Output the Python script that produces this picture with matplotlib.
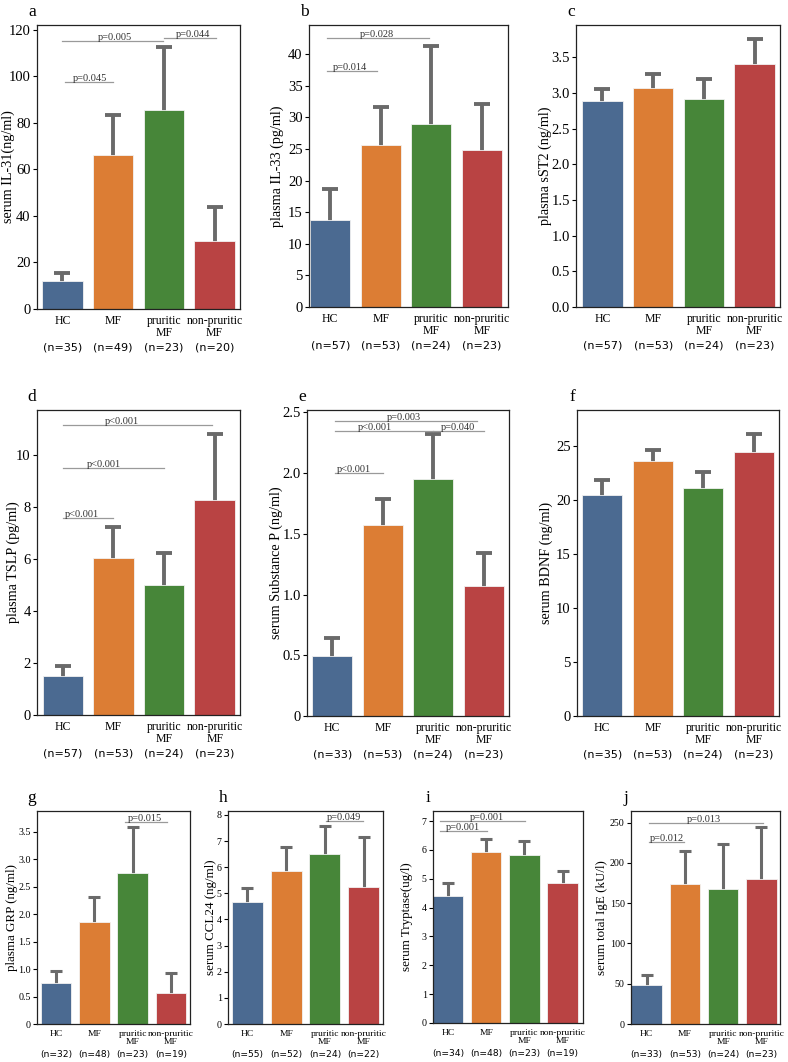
import matplotlib.pyplot as plt

W, H = 788, 1062
SERIF = ['Liberation Serif', 'DejaVu Serif']
SANS = ['DejaVu Sans']

groups = ['HC', 'MF', 'pruritic\nMF', 'non-pruritic\nMF']
bar_colors = ['#4b6a91', '#dc7d34', '#478639', '#b94343']

# a  serum IL-31
il31_mean = [12.0, 66.1, 85.7, 29.0]
il31_err = [3.6, 17.1, 26.7, 15.0]
il31_n = [35, 49, 23, 20]
il31_p = [(0.05, 1.0, 97.6, 'p=0.045', 0.54),
          (0.0, 1.98, 115.1, 'p=0.005', 1.04),
          (2.0, 3.02, 116.6, 'p=0.044', 2.57)]

# b  plasma IL-33
il33_mean = [13.75, 25.6, 29.0, 24.8]
il33_err = [4.85, 6.1, 12.2, 7.3]
il33_n = [57, 53, 24, 23]
il33_p = [(-0.07, 0.93, 37.3, 'p=0.014', 0.39),
          (-0.07, 1.96, 42.5, 'p=0.028', 0.92)]

# c  plasma sST2
sst2_mean = [2.88, 3.07, 2.91, 3.40]
sst2_err = [0.17, 0.20, 0.28, 0.36]
sst2_n = [57, 53, 24, 23]

# d  plasma TSLP
tslp_mean = [1.52, 6.06, 5.01, 8.28]
tslp_err = [0.35, 1.19, 1.24, 2.55]
tslp_n = [57, 53, 24, 23]
tslp_p = [(0.0, 1.0, 7.6, 'p<0.001', 0.37),
          (0.0, 2.0, 9.5, 'p<0.001', 0.82),
          (0.0, 2.95, 11.16, 'p<0.001', 1.16)]

# e  serum Substance P
subp_mean = [0.494, 1.573, 1.952, 1.072]
subp_err = [0.149, 0.217, 0.374, 0.27]
subp_n = [33, 53, 24, 23]
subp_p = [(0.06, 1.0, 2.0, 'p<0.001', 0.43),
          (0.06, 2.0, 2.35, 'p<0.001', 0.85),
          (2.0, 3.0, 2.35, 'p=0.040', 2.49),
          (0.06, 2.86, 2.43, 'p=0.003', 1.42)]

# f  serum BDNF
bdnf_mean = [20.4, 23.55, 21.1, 24.45]
bdnf_err = [1.4, 1.02, 1.5, 1.61]
bdnf_n = [35, 53, 24, 23]

# g  plasma GRP
grp_mean = [0.745, 1.85, 2.745, 0.573]
grp_err = [0.225, 0.47, 0.845, 0.353]
grp_n = [32, 48, 23, 19]
grp_p = [(1.8, 2.9, 3.68, 'p=0.015', 2.33)]

# h  serum CCL24
ccl24_mean = [4.65, 5.87, 6.5, 5.26]
ccl24_err = [0.57, 0.92, 1.08, 1.89]
ccl24_n = [55, 52, 24, 22]
ccl24_p = [(2.02, 2.99, 7.77, 'p=0.049', 2.5)]

# i  serum Tryptase
tryp_mean = [4.41, 5.93, 5.83, 4.84]
tryp_err = [0.45, 0.46, 0.48, 0.43]
tryp_n = [34, 48, 23, 19]
tryp_p = [(-0.21, 1.01, 6.64, 'p=0.001', 0.38),
          (-0.21, 2.01, 7.0, 'p=0.001', 1.01)]

# j  serum total IgE
ige_mean = [47.9, 174.0, 167.4, 179.8]
ige_err = [12.4, 41.0, 55.6, 65.2]
ige_n = [33, 53, 24, 23]
ige_p = [(0.06, 0.99, 225.7, 'p=0.012', 0.52),
         (0.06, 3.05, 250.0, 'p=0.013', 1.51)]


def draw_panel(fig, box, label_x, letter, ylabel, means, errs, ns, ylim,
               yticks, yticklabels, pvals, xlim, small=False):
    l, t, r, b = box
    ax = fig.add_axes([l / W, 1 - b / H, (r - l) / W, (b - t) / H])
    x = list(range(len(groups)))

    if small:
        fs_tick, fs_cat, fs_n, fs_lab = 7.2, 6.8, 6.6, 9.4
        lw, cap, n_off = 2.2, 4.2, 22
    else:
        fs_tick, fs_cat, fs_n, fs_lab = 10.5, 8.5, 8.0, 10.2
        lw, cap, n_off = 2.8, 5.6, 28

    ax.bar(x, means, width=0.8, color=bar_colors, edgecolor='#f2f2f2',
           linewidth=0.6, zorder=2)
    # symmetric bars drawn behind the boxes, so only the upper half shows
    ax.errorbar(x, means, yerr=errs, fmt='none', ecolor='#6a6a6a',
                elinewidth=lw, capsize=cap, capthick=lw, zorder=1)

    for x0, x1, y, txt, tx in pvals:
        ax.plot([x0, x1], [y, y], color='#9a9a9a', lw=0.9, zorder=3)
        ax.text(tx, y - 0.004 * ylim, txt, ha='center', va='bottom',
                fontsize=7.5, family=SERIF, color='#333333')

    ax.set_xlim(*xlim)
    ax.set_ylim(0, ylim)
    ax.set_yticks(yticks)
    ax.set_yticklabels(yticklabels, family=SERIF, fontsize=fs_tick)
    ax.set_xticks(x)
    ax.set_xticklabels(groups, family=SERIF, fontsize=fs_cat, va='top',
                       linespacing=1.05)
    ax.tick_params(axis='x', length=0, pad=4)
    ax.tick_params(axis='y', length=3, width=0.8, pad=1.5)
    ax.set_ylabel(ylabel, family=SERIF, fontsize=fs_lab)
    ax.yaxis.set_label_coords((label_x - l) / (r - l), 0.5)
    ax.yaxis.label.set_va('center')
    for sp in ax.spines.values():
        sp.set_linewidth(0.9)
        sp.set_color('#222222')

    for xi, n in zip(x, ns):
        ax.annotate(f'(n={n})', xy=(xi, 0), xycoords=('data', 'axes fraction'),
                    xytext=(0, -n_off), textcoords='offset points',
                    ha='center', va='center', fontsize=fs_n, family=SANS)

    fig.text((l - 5) / W, 1 - (t - 13) / H, letter, fontsize=12.5,
             family=SERIF, ha='center', va='center')
    return ax


fig = plt.figure(figsize=(W / 100, H / 100), dpi=100)

draw_panel(fig, (37, 25, 240, 309), 8, 'a', 'serum IL-31(ng/ml)',
           il31_mean, il31_err, il31_n, 122, list(range(0, 121, 20)),
           [str(v) for v in range(0, 121, 20)], il31_p, (-0.5, 3.5))
draw_panel(fig, (309, 25, 508, 307), 277, 'b', 'plasma IL-33 (pg/ml)',
           il33_mean, il33_err, il33_n, 44.6, list(range(0, 41, 5)),
           [str(v) for v in range(0, 41, 5)], il33_p, (-0.42, 3.52))
draw_panel(fig, (576, 25, 780, 307), 545, 'c', 'plasma sST2 (ng/ml)',
           sst2_mean, sst2_err, sst2_n, 3.95, [v / 2 for v in range(8)],
           [f'{v / 2:.1f}' for v in range(8)], [], (-0.52, 3.5))

draw_panel(fig, (37, 410, 240, 715), 13, 'd', 'plasma TSLP (pg/ml)',
           tslp_mean, tslp_err, tslp_n, 11.74, list(range(0, 11, 2)),
           [str(v) for v in range(0, 11, 2)], tslp_p, (-0.51, 3.5))
draw_panel(fig, (307, 410, 509, 716), 276, 'e', 'serum Substance P (ng/ml)',
           subp_mean, subp_err, subp_n, 2.52, [v / 2 for v in range(6)],
           ['0'] + [f'{v / 2:.1f}' for v in range(1, 6)], subp_p, (-0.5, 3.5))
draw_panel(fig, (577, 410, 779, 716), 546, 'f', 'serum BDNF (ng/ml)',
           bdnf_mean, bdnf_err, bdnf_n, 28.3, list(range(0, 26, 5)),
           [str(v) for v in range(0, 26, 5)], [], (-0.5, 3.5))

draw_panel(fig, (37, 811, 190, 1024), 12, 'g', 'plasma GRP (ng/ml)',
           grp_mean, grp_err, grp_n, 3.88, [v / 2 for v in range(8)],
           ['0'] + [f'{v / 2:.1f}' for v in range(1, 8)], grp_p, (-0.5, 3.5),
           small=True)
draw_panel(fig, (228, 811, 383, 1024), 211, 'h', 'serum CCL24 (ng/ml)',
           ccl24_mean, ccl24_err, ccl24_n, 8.15, list(range(0, 9)),
           [str(v) for v in range(0, 9)], ccl24_p, (-0.5, 3.5), small=True)
draw_panel(fig, (433, 811, 583, 1023), 407, 'i', 'serum Tryptase(ug/l)',
           tryp_mean, tryp_err, tryp_n, 7.35, list(range(0, 8)),
           [str(v) for v in range(0, 8)], tryp_p, (-0.39, 3.53), small=True)
draw_panel(fig, (631, 811, 780, 1024), 602, 'j', 'serum total IgE (kU/l)',
           ige_mean, ige_err, ige_n, 264.5, list(range(0, 251, 50)),
           [str(v) for v in range(0, 251, 50)], ige_p, (-0.41, 3.49),
           small=True)

fig.savefig('out.png', dpi=100, facecolor='white')
